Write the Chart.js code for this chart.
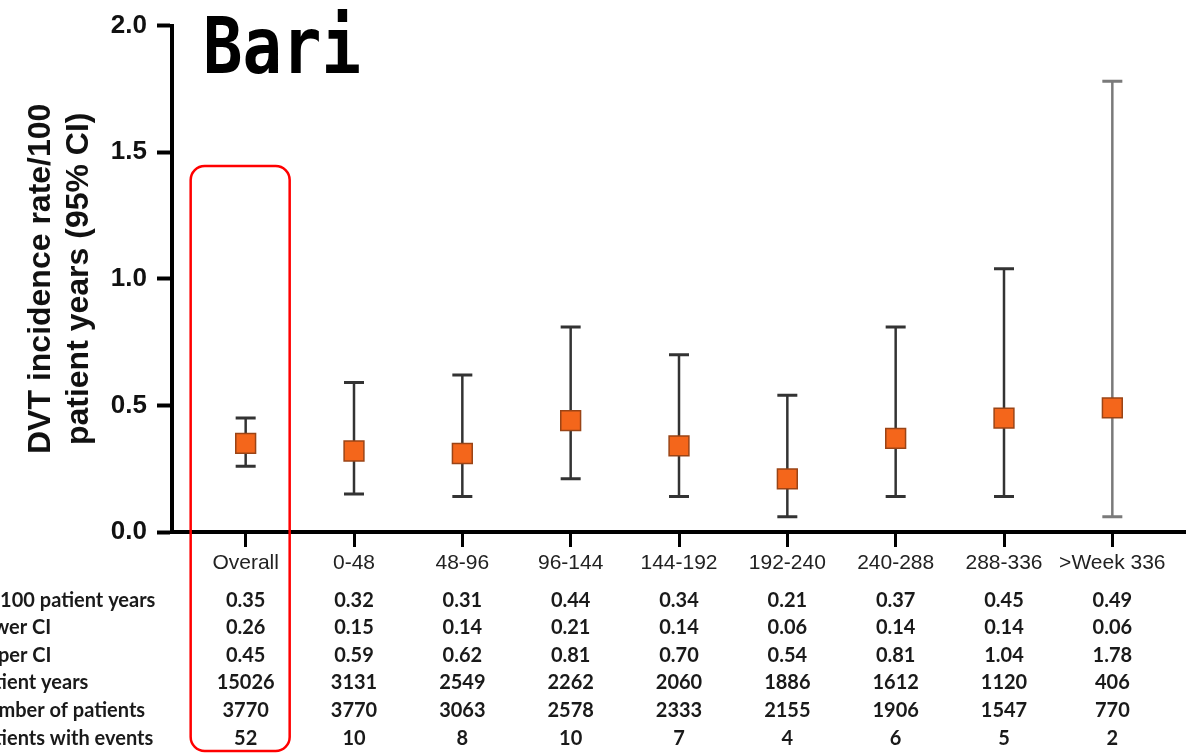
<!DOCTYPE html>
<html>
<head>
<meta charset="utf-8">
<script src="https://cdn.jsdelivr.net/npm/chart.js@4.4.1/dist/chart.umd.min.js"></script>
<style>
  html, body { margin: 0; padding: 0; background: #fff; overflow: hidden; }
  #wrap { position: relative; width: 1186px; height: 753px; }
</style>
</head>
<body>
<div id="wrap"><canvas id="chart"></canvas></div>
<script>
const categories = ["Overall", "0-48", "48-96", "96-144", "144-192", "192-240", "240-288", "288-336", ">Week 336"];
const rate = [0.35, 0.32, 0.31, 0.44, 0.34, 0.21, 0.37, 0.45, 0.49];
const lowerCI = [0.26, 0.15, 0.14, 0.21, 0.14, 0.06, 0.14, 0.14, 0.06];
const upperCI = [0.45, 0.59, 0.62, 0.81, 0.70, 0.54, 0.81, 1.04, 1.78];
const patientYears = [15026, 3131, 2549, 2262, 2060, 1886, 1612, 1120, 406];
const nPatients = [3770, 3770, 3063, 2578, 2333, 2155, 1906, 1547, 770];
const nEvents = [52, 10, 8, 10, 7, 4, 6, 5, 2];
const yTicks = [0, 0.5, 1.0, 1.5, 2.0];

const rowLabels = ["IR/100 patient years", "Lower CI", "Upper CI", "Patient years", "Number of patients", "Patients with events"];
const rowValues = [
  rate.map(v => v.toFixed(2)),
  lowerCI.map(v => v.toFixed(2)),
  upperCI.map(v => v.toFixed(2)),
  patientYears.map(String),
  nPatients.map(String),
  nEvents.map(String),
];

// whiskers, table under the axis, highlight box and the "Bari" label
const extrasPlugin = {
  id: "extras",
  beforeDatasetsDraw(chart) {
    const ctx = chart.ctx;
    const xs = chart.scales.x, ys = chart.scales.y;
    ctx.save();
    categories.forEach((c, i) => {
      const x = xs.getPixelForValue(i);
      const yLo = ys.getPixelForValue(lowerCI[i]);
      const yHi = ys.getPixelForValue(upperCI[i]);
      ctx.strokeStyle = i === categories.length - 1 ? "#7a7a7a" : "#333";
      ctx.lineWidth = 2.5;
      ctx.beginPath();
      ctx.moveTo(x, yLo);
      ctx.lineTo(x, yHi);
      ctx.stroke();
      ctx.lineWidth = 3;
      ctx.beginPath();
      ctx.moveTo(x - 10, yLo); ctx.lineTo(x + 10, yLo);
      ctx.moveTo(x - 10, yHi); ctx.lineTo(x + 10, yHi);
      ctx.stroke();
    });
    ctx.restore();
  },
  afterDraw(chart) {
    const ctx = chart.ctx;
    const xs = chart.scales.x;
    const base = chart.chartArea.bottom;
    const rowY = [69, 96, 124, 151, 179, 207];
    ctx.save();
    ctx.fillStyle = "#1a1a1a";
    ctx.font = "bold 20px Lato";
    ctx.textBaseline = "middle";
    rowLabels.forEach((lab, r) => {
      ctx.textAlign = "left";
      ctx.fillText(lab, -28, base + rowY[r]);
      ctx.textAlign = "center";
      rowValues[r].forEach((v, i) => {
        ctx.fillText(v, xs.getPixelForValue(i), base + rowY[r]);
      });
    });

    // red box round the Overall column
    const cx = xs.getPixelForValue(0);
    ctx.strokeStyle = "#ff0000";
    ctx.lineWidth = 2.5;
    ctx.beginPath();
    ctx.roundRect(cx - 55, 166, 99, 585, 14);
    ctx.stroke();

    ctx.fillStyle = "#000";
    ctx.textAlign = "left";
    ctx.textBaseline = "alphabetic";
    ctx.font = "bold 79px 'DejaVu Sans Mono'";
    ctx.translate(203, 73);
    ctx.scale(0.83, 1);
    ctx.fillText("Bari", 0, 0);
    ctx.restore();
  }
};

const chart = new Chart(document.getElementById("chart"), {
  type: "scatter",
  data: {
    datasets: [{
      data: rate.map((v, i) => ({ x: i, y: v })),
      pointStyle: "rect",
      pointRadius: 14,
      pointHoverRadius: 14,
      backgroundColor: "#f4661b",
      borderColor: "#9a4416",
      borderWidth: 1.5,
    }]
  },
  options: {
    responsive: true,
    maintainAspectRatio: false,
    animation: false,
    layout: { autoPadding: false, padding: { top: 22, right: 0, left: 0, bottom: 0 } },
    plugins: {
      legend: { display: false },
      tooltip: { enabled: false },
    },
    scales: {
      x: {
        type: "linear",
        min: -0.68,
        max: 8.68,
        afterBuildTicks: (scale) => { scale.ticks = categories.map((c, i) => ({ value: i })); },
        afterFit: (scale) => { scale.height = 221; },
        border: { display: true, color: "#000", width: 4 },
        grid: { drawOnChartArea: false, drawTicks: true, tickLength: 15, tickWidth: 3, tickColor: "#000" },
        ticks: {
          autoSkip: false,
          maxRotation: 0,
          padding: 4,
          color: "#222",
          font: { family: "Liberation Sans", size: 21 },
          callback: (v) => categories[v],
        },
      },
      y: {
        min: 0,
        max: 2,
        afterBuildTicks: (scale) => { scale.ticks = yTicks.map(v => ({ value: v })); },
        afterFit: (scale) => { scale.width = 172; },
        border: { display: true, color: "#000", width: 4 },
        grid: { drawOnChartArea: false, drawTicks: true, tickLength: 15, tickWidth: 4, tickColor: "#000" },
        ticks: {
          padding: 10,
          color: "#111",
          font: { family: "Liberation Sans", size: 26, weight: "bold" },
          callback: (v) => v.toFixed(1),
        },
        title: {
          display: true,
          text: ["DVT incidence rate/100", "patient years (95% CI)"],
          color: "#111",
          font: { family: "Liberation Sans", size: 32, weight: "bold", lineHeight: 1.2 },
          padding: { top: 22, bottom: 0 },
        },
      },
    },
  },
  plugins: [extrasPlugin],
});
</script>
</body>
</html>
